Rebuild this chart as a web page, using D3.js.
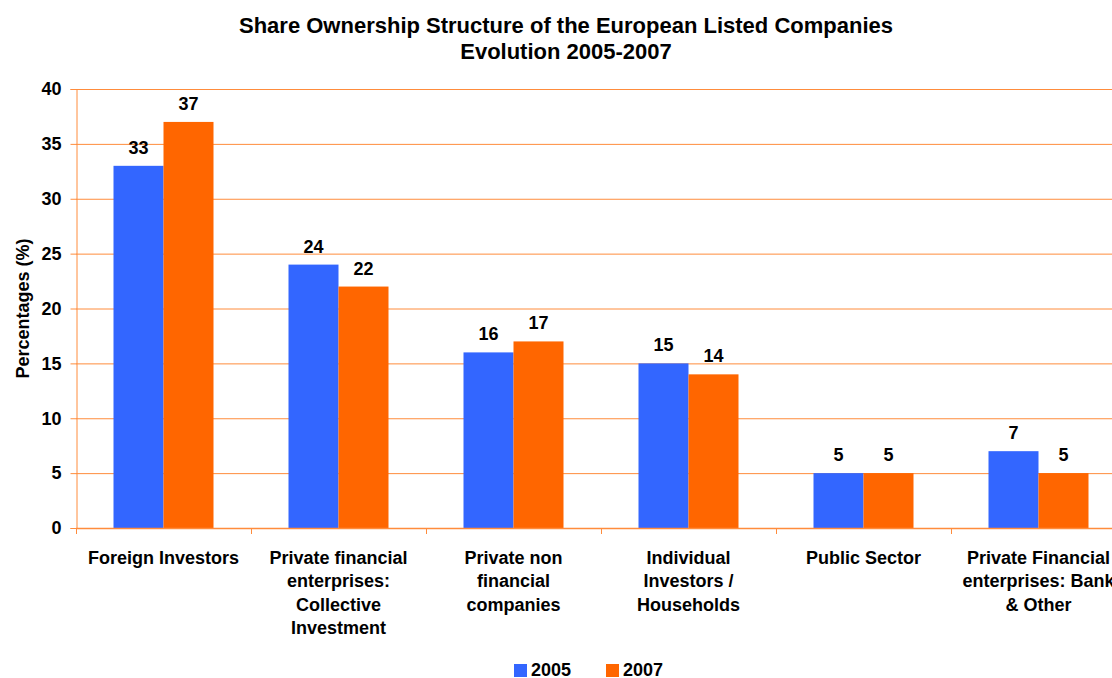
<!DOCTYPE html>
<html>
<head>
<meta charset="utf-8">
<script src="https://cdn.jsdelivr.net/npm/d3@7"></script>
<style>
  html, body { margin: 0; padding: 0; background: #fff; }
  svg { display: block; }
  text { font-family: "Liberation Sans", Arial, sans-serif; font-weight: bold; fill: #000; }
</style>
</head>
<body>
<svg id="chart" width="1112" height="678"></svg>
<script>
// Ownership categories (multi-line labels under the axis)
const categories = [
  ["Foreign Investors"],
  ["Private financial", "enterprises:", "Collective", "Investment"],
  ["Private non", "financial", "companies"],
  ["Individual", "Investors /", "Households"],
  ["Public Sector"],
  ["Private Financial", "enterprises: Bank", "& Other"]
];
const years = ["2005", "2007"];
const values2005 = [33, 24, 16, 15, 5, 7];
const values2007 = [37, 22, 17, 14, 5, 5];
const yTicks = [0, 5, 10, 15, 20, 25, 30, 35, 40];
const colors = ["#3366FF", "#FF6600"];
const gridColor = "#FF8C3C";

const svg = d3.select("#chart");
const plot = { left: 76, right: 1126, top: 89, bottom: 528 };

const x0 = d3.scaleBand()
  .domain(d3.range(categories.length))
  .range([plot.left, plot.right])
  .paddingInner(0).paddingOuter(0);
const x1 = d3.scaleBand()
  .domain(years)
  .range([0, x0.bandwidth()])
  .paddingInner(0)
  .paddingOuter(0.75);
const y = d3.scaleLinear().domain([0, 40]).range([plot.bottom, plot.top]);

// Title
const title = svg.append("text")
  .attr("x", 566).attr("text-anchor", "middle")
  .style("font-size", "22px");
title.append("tspan").attr("x", 566).attr("y", 33)
  .text("Share Ownership Structure of the European Listed Companies");
title.append("tspan").attr("x", 566).attr("y", 59)
  .text("Evolution 2005-2007");

// Horizontal gridlines
svg.append("g").selectAll("line")
  .data(yTicks.filter(d => d > 0))
  .join("line")
  .attr("x1", plot.left).attr("x2", plot.right)
  .attr("y1", d => y(d) + 0.5).attr("y2", d => y(d) + 0.5)
  .attr("stroke", gridColor).attr("stroke-width", 1);

// Y axis
const yAxis = svg.append("g")
  .attr("transform", `translate(${plot.left + 0.5},0)`)
  .call(d3.axisLeft(y).tickValues(yTicks).tickSize(6).tickPadding(9).tickFormat(d3.format("d")));
yAxis.select(".domain").attr("stroke", gridColor);
yAxis.selectAll(".tick line").attr("stroke", gridColor);
yAxis.selectAll(".tick text").style("font-size", "18px").style("font-family", "'Liberation Sans', Arial, sans-serif").style("font-weight", "bold").attr("fill", "#000");

// Y axis title
svg.append("text")
  .attr("transform", `translate(29,${(plot.top + plot.bottom) / 2}) rotate(-90)`)
  .attr("text-anchor", "middle")
  .style("font-size", "18px")
  .text("Percentages (%)");

// Bars
const series = [values2005, values2007];
const barGroups = svg.append("g").selectAll("g")
  .data(years.map((yr, i) => ({ yr, vals: series[i], color: colors[i] })))
  .join("g")
  .attr("fill", d => d.color);

barGroups.selectAll("rect")
  .data(d => d.vals.map((v, i) => ({ v, i, yr: d.yr })))
  .join("rect")
  .attr("x", d => x0(d.i) + x1(d.yr))
  .attr("y", d => y(d.v))
  .attr("width", x1.bandwidth())
  .attr("height", d => y(0) - y(d.v));

// Value labels
barGroups.selectAll("text.val")
  .data(d => d.vals.map((v, i) => ({ v, i, yr: d.yr })))
  .join("text")
  .attr("class", "val")
  .attr("x", d => x0(d.i) + x1(d.yr) + x1.bandwidth() / 2)
  .attr("y", d => y(d.v) - 12)
  .attr("text-anchor", "middle")
  .style("font-size", "18px")
  .style("fill", "#000")
  .text(d => d.v);

// X axis baseline and category ticks
const xAxisG = svg.append("g");
xAxisG.append("line")
  .attr("x1", plot.left).attr("x2", plot.right)
  .attr("y1", plot.bottom + 0.5).attr("y2", plot.bottom + 0.5)
  .attr("stroke", gridColor).attr("stroke-width", 1.5);
xAxisG.selectAll("line.tk")
  .data(d3.range(categories.length + 1))
  .join("line")
  .attr("class", "tk")
  .attr("x1", d => (d < categories.length ? x0(d) : plot.right) + 0.5)
  .attr("x2", d => (d < categories.length ? x0(d) : plot.right) + 0.5)
  .attr("y1", plot.bottom).attr("y2", plot.bottom + 6)
  .attr("stroke", gridColor);

// Category labels
xAxisG.selectAll("text.cat")
  .data(categories)
  .join("text")
  .attr("class", "cat")
  .attr("text-anchor", "middle")
  .style("font-size", "18px")
  .each(function (lines, i) {
    const cx = x0(i) + x0.bandwidth() / 2;
    d3.select(this).selectAll("tspan")
      .data(lines)
      .join("tspan")
      .attr("x", cx)
      .attr("y", (d, j) => 563.5 + j * 23.5)
      .text(d => d);
  });

// Legend
const legend = svg.append("g");
const legendX = [514, 606];
years.forEach((yr, i) => {
  legend.append("rect")
    .attr("x", legendX[i]).attr("y", 664)
    .attr("width", 13).attr("height", 13)
    .attr("fill", colors[i]);
  legend.append("text")
    .attr("x", legendX[i] + 17).attr("y", 676)
    .style("font-size", "18px")
    .text(yr);
});
</script>
</body>
</html>
